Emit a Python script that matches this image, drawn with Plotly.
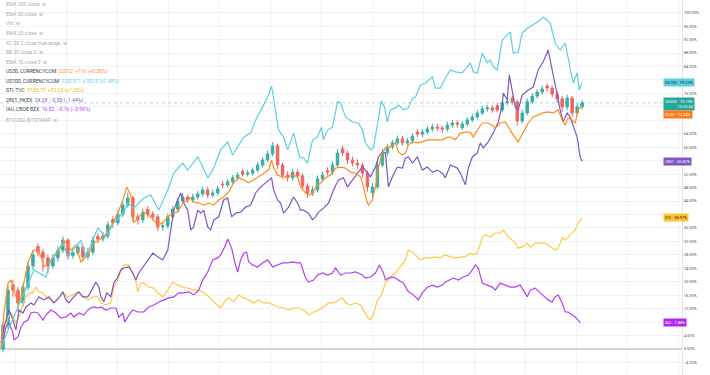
import plotly.graph_objects as go

# ---------------- DATA (percent change since start) ----------------
# US500 candles (main series)
us500_day = list(range(2, 583, 5))
us500_open = [0.0, 7.1, 19.0, 17.5, 13.7, 18.4, 24.7, 30.5, 28.8, 27.1,
              24.7, 27.1, 29.4, 32.4, 27.7, 28.6, 30.3, 27.4, 28.8, 33.5,
              32.7, 33.6, 38.5, 37.5, 40.1, 42.8, 44.9, 39.3, 38.4, 41.5,
              40.1, 39.3, 36.3, 36.6, 39.3, 41.6, 44.0, 45.2, 44.3, 45.2,
              46.1, 47.3, 45.8, 46.4, 49.0, 48.8, 49.7, 50.9, 52.8, 52.0,
              52.3, 53.2, 54.7, 56.2, 58.0, 60.4, 54.7, 51.7, 50.9, 52.6,
              51.5, 48.5, 46.4, 47.3, 50.6, 53.0, 52.6, 54.7, 59.5, 58.3,
              56.2, 55.3, 54.7, 52.3, 46.5, 48.2, 54.7, 58.3, 60.1, 61.3,
              62.5, 61.3, 61.9, 64.5, 63.9, 64.5, 65.4, 66.0, 65.7, 65.4,
              66.6, 67.2, 65.8, 66.9, 68.1, 69.0, 70.2, 71.4, 71.7, 72.3,
              71.1, 73.2, 74.5, 73.5, 67.8, 70.2, 73.5, 75.2, 76.4, 78.2,
              77.6, 75.8, 74.4, 72.0, 74.6, 70.2, 72.0]
us500_close = [7.1, 17.5, 17.5, 13.7, 18.4, 24.7, 28.0, 28.8, 27.1, 24.7,
               27.1, 29.4, 32.4, 27.7, 28.6, 30.3, 27.4, 28.8, 32.4, 32.7,
               33.6, 36.9, 37.5, 40.1, 42.8, 44.9, 39.3, 38.4, 40.7, 40.1,
               39.3, 36.3, 36.6, 39.3, 41.6, 44.0, 45.2, 44.3, 45.2, 46.1,
               47.3, 45.8, 46.4, 47.6, 48.8, 49.7, 50.9, 51.7, 52.0, 52.3,
               53.2, 54.7, 56.2, 58.0, 60.4, 54.7, 51.7, 50.9, 52.6, 51.5,
               48.5, 46.4, 47.3, 50.6, 51.7, 52.6, 54.7, 58.3, 58.3, 56.2,
               55.3, 54.7, 52.3, 48.2, 48.2, 54.7, 58.3, 60.1, 61.3, 62.5,
               61.3, 61.9, 63.3, 63.9, 64.5, 65.4, 66.0, 65.7, 65.4, 66.6,
               67.2, 66.9, 66.9, 68.1, 69.0, 70.2, 71.4, 71.7, 71.1, 71.1,
               73.2, 73.5, 73.5, 67.8, 70.2, 73.5, 75.2, 76.4, 77.3, 77.6,
               75.8, 74.4, 72.0, 74.6, 70.2, 72.0, 73.19]
us500_high = [8.0, 19.0, 20.5, 18.5, 19.5, 26.0, 29.5, 31.5, 29.8, 28.0,
              28.2, 30.5, 33.5, 33.0, 29.8, 31.5, 31.0, 30.0, 33.5, 34.5,
              34.8, 38.0, 39.5, 41.2, 44.0, 46.5, 45.5, 40.2, 41.8, 42.5,
              41.0, 40.0, 37.8, 40.3, 42.6, 45.0, 46.3, 46.0, 46.2, 47.0,
              48.3, 48.2, 47.4, 48.6, 50.0, 50.6, 51.8, 52.6, 53.6, 53.2,
              54.0, 55.6, 57.0, 59.0, 61.5, 61.0, 55.5, 52.8, 53.6, 53.5,
              52.2, 49.3, 48.4, 51.6, 52.8, 54.0, 55.8, 59.4, 60.5, 59.0,
              57.2, 56.4, 55.4, 53.0, 49.4, 55.8, 59.5, 61.0, 62.2, 63.5,
              63.4, 62.8, 64.2, 65.4, 65.4, 66.4, 67.0, 66.9, 66.5, 67.6,
              68.1, 68.0, 67.8, 69.0, 70.0, 71.1, 72.4, 72.6, 72.6, 73.2,
              74.1, 74.5, 75.3, 74.2, 71.2, 74.5, 76.1, 77.3, 78.3, 79.0,
              78.3, 76.7, 75.2, 75.6, 75.3, 73.0, 74.0]
us500_low = [-1.0, 6.0, 15.5, 11.0, 12.5, 17.5, 23.5, 27.5, 23.0, 22.5,
             23.8, 26.0, 28.5, 26.5, 26.8, 27.8, 26.0, 26.5, 28.0, 31.5,
             31.8, 32.8, 36.0, 36.8, 39.2, 42.0, 38.0, 37.0, 37.5, 39.0,
             38.2, 35.0, 35.2, 35.8, 38.5, 40.8, 43.2, 43.3, 43.5, 44.4,
             45.4, 44.8, 45.0, 45.6, 47.8, 48.0, 49.0, 50.2, 51.2, 51.2,
             51.6, 52.5, 54.0, 55.5, 57.2, 53.5, 50.5, 49.8, 50.0, 50.6,
             47.5, 45.0, 45.5, 46.6, 49.8, 51.6, 51.8, 54.0, 57.4, 55.0,
             54.3, 53.6, 51.0, 46.8, 45.2, 47.6, 54.0, 57.4, 59.4, 60.6,
             60.4, 60.5, 61.0, 63.0, 63.0, 63.8, 64.6, 64.8, 64.2, 64.6,
             65.8, 65.8, 65.0, 66.1, 67.4, 68.3, 69.5, 70.6, 70.2, 70.3,
             70.4, 72.4, 72.6, 66.5, 67.0, 69.5, 72.8, 74.5, 75.6, 76.6,
             74.8, 73.2, 70.5, 71.0, 69.0, 69.3, 71.2]

us100_day = [0, 3, 20, 33, 45, 50, 62, 67, 80, 85, 97, 105, 113, 123, 127, 133, 143, 150, 158, 167,
             173, 182, 187, 197, 202, 207, 212, 220, 227, 232, 237, 243, 250, 255, 262, 267, 271, 275, 278, 283,
             287, 293, 299, 303, 307, 312, 317, 321, 323, 327, 332, 337, 340, 345, 352, 358, 362, 365, 370, 373,
             378, 381, 384, 387, 390, 395, 398, 403, 408, 412, 415, 420, 425, 432, 435, 440, 445, 450, 455, 462,
             470, 473, 477, 482, 487, 490, 493, 497, 502, 510, 513, 518, 522, 528, 533, 540, 543, 550, 555, 560,
             565, 570, 573, 577, 579, 582]
us100_pct = [0, 2.7, 14.6, 23.5, 21.4, 26.5, 31.5, 27.4, 32.4, 27.4, 36.0, 33.3, 37.5, 40.7, 43.4, 41.9, 44.9, 45.8, 41.3, 47.3,
             52.3, 55.3, 53.2, 57.1, 54.1, 50.9, 53.2, 59.2, 61.6, 57.7, 60.1, 63.0, 64.2, 68.1, 72.0, 74.9, 78.2, 71.1, 65.1, 63.0,
             59.2, 64.2, 57.1, 56.8, 55.3, 62.2, 63.0, 66.0, 62.2, 65.1, 66.0, 73.5, 73.2, 69.0, 67.5, 67.2, 65.1, 61.3, 59.2, 59.8,
             69.0, 73.8, 72.0, 67.5, 71.1, 71.7, 72.6, 71.1, 71.7, 74.6, 74.9, 78.5, 79.1, 80.9, 77.6, 77.6, 80.6, 83.0, 82.4, 82.1,
             85.1, 82.4, 82.1, 88.0, 85.1, 85.9, 83.9, 83.0, 91.9, 94.3, 88.0, 88.3, 94.0, 95.5, 96.4, 97.8, 98.7, 97.0, 91.0, 88.9,
             91.0, 83.6, 79.1, 82.1, 77.0, 79.27]

us30_day = [0, 3, 7, 10, 13, 17, 20, 23, 27, 30, 33, 37, 40, 43, 48, 53, 60, 63, 70, 75,
            80, 87, 93, 103, 110, 117, 122, 126, 130, 133, 137, 143, 150, 157, 162, 167, 172, 177, 182, 187,
            190, 193, 198, 203, 208, 213, 218, 223, 228, 233, 238, 243, 248, 253, 258, 263, 268, 271, 273, 277,
            282, 287, 292, 297, 300, 305, 310, 315, 320, 325, 330, 335, 340, 345, 350, 355, 360, 363, 366, 368,
            372, 375, 378, 382, 385, 390, 395, 398, 402, 405, 408, 412, 417, 422, 427, 432, 437, 442, 447, 450,
            455, 460, 465, 470, 473, 477, 482, 487, 492, 495, 500, 505, 510, 513, 518, 523, 528, 533, 538, 543,
            548, 553, 558, 562, 565, 568, 572, 575, 578, 582]
us30_pct = [0.6, 10.7, 19.6, 20.5, 17.5, 13.7, 15.5, 19.6, 25.6, 28.0, 29.4, 29.4, 27.4, 24.4, 25.6, 27.4, 30.3, 32.4, 29.4, 30.9,
            25.9, 28.0, 31.5, 33.3, 36.3, 40.4, 44.3, 48.2, 45.8, 37.5, 39.0, 40.7, 39.3, 36.9, 37.5, 39.3, 40.4, 40.7, 43.4, 44.3,
            44.9, 43.7, 43.4, 42.8, 43.4, 42.8, 44.3, 45.2, 46.7, 49.4, 50.9, 50.3, 49.4, 50.3, 51.2, 52.3, 53.2, 56.2, 54.1, 51.7,
            51.2, 51.2, 51.7, 51.2, 48.2, 46.4, 45.8, 47.9, 49.4, 50.9, 51.7, 53.8, 54.1, 53.8, 52.6, 52.3, 51.2, 48.2, 44.3, 42.8,
            44.3, 48.2, 54.1, 58.3, 59.8, 60.1, 61.3, 58.6, 57.7, 58.3, 60.7, 61.6, 61.3, 61.6, 62.2, 62.2, 62.2, 62.2, 63.0, 63.0,
            62.2, 64.2, 64.5, 64.5, 63.0, 65.1, 67.2, 67.2, 66.6, 65.7, 67.2, 67.5, 65.1, 63.6, 61.6, 64.2, 67.2, 69.0, 69.6, 70.2,
            70.5, 70.2, 71.1, 68.1, 66.6, 68.7, 68.1, 67.2, 71.1, 72.24]

hk2801_day = [0, 3, 8, 12, 15, 18, 22, 25, 30, 33, 38, 43, 48, 53, 58, 62, 65, 68, 72, 78,
              82, 87, 92, 95, 98, 100, 103, 106, 110, 113, 117, 120, 123, 128, 132, 135, 138, 142, 147, 152,
              157, 162, 167, 170, 173, 177, 180, 183, 187, 190, 193, 197, 200, 203, 207, 210, 213, 218, 223, 227,
              231, 235, 240, 245, 250, 255, 260, 265, 271, 273, 277, 280, 283, 288, 293, 297, 300, 303, 308, 312,
              315, 318, 323, 328, 333, 338, 343, 347, 352, 357, 362, 365, 370, 375, 378, 382, 385, 388, 392, 397,
              402, 405, 408, 412, 417, 422, 427, 432, 437, 442, 445, 450, 457, 460, 465, 468, 472, 477, 480, 483,
              488, 493, 498, 502, 503, 507, 509, 512, 515, 518, 522, 528, 533, 538, 543, 548, 550, 553, 557, 560,
              563, 567, 570, 573, 577, 580, 582]
hk2801_pct = [1.8, 6.5, 11.6, 8.6, 5.7, 11.6, 10.7, 12.5, 13.7, 13.1, 15.5, 14.6, 15.5, 13.7, 15.2, 17.0, 14.6, 13.7, 15.2, 17.0,
              15.5, 15.5, 18.1, 19.9, 18.4, 15.5, 14.0, 16.7, 15.5, 19.6, 21.4, 23.5, 24.1, 24.4, 22.6, 20.5, 22.6, 24.4, 26.5, 28.5,
              27.4, 26.5, 29.4, 35.4, 41.3, 44.3, 46.4, 43.4, 41.3, 35.4, 36.3, 41.3, 40.4, 41.3, 36.3, 35.4, 38.4, 39.3, 44.3, 44.9,
              39.3, 40.4, 40.7, 42.2, 42.8, 46.4, 48.2, 49.4, 50.9, 47.3, 44.3, 43.4, 40.4, 42.2, 45.2, 43.4, 41.3, 41.3, 40.4, 38.4,
              39.3, 40.7, 41.9, 43.4, 47.3, 50.3, 50.9, 48.2, 50.3, 52.3, 54.1, 53.2, 51.2, 54.1, 57.1, 58.6, 58.3, 48.2, 51.2, 54.1,
              53.8, 56.8, 57.1, 55.3, 57.1, 53.2, 54.1, 52.6, 53.2, 52.3, 50.9, 54.7, 53.8, 52.3, 48.8, 53.8, 57.1, 58.3, 61.3, 59.8,
              61.6, 64.2, 67.5, 72.6, 76.1, 74.1, 81.5, 77.0, 72.0, 71.1, 75.5, 77.0, 77.9, 83.0, 85.4, 88.9, 85.9, 80.9, 74.9, 71.1,
              67.5, 70.2, 69.0, 66.6, 63.0, 57.1, 55.82]

sti_day = [0, 3, 7, 10, 15, 18, 22, 25, 28, 32, 35, 38, 42, 45, 50, 53, 58, 62, 67, 72,
           77, 82, 87, 92, 97, 100, 105, 110, 113, 117, 120, 123, 128, 132, 135, 137, 140, 143, 148, 153,
           157, 162, 167, 172, 177, 182, 187, 193, 198, 203, 208, 213, 220, 225, 228, 233, 238, 243, 248, 253,
           258, 263, 268, 273, 278, 283, 288, 293, 299, 305, 308, 313, 318, 323, 328, 333, 338, 342, 345, 350,
           355, 360, 363, 367, 370, 373, 377, 381, 385, 390, 395, 400, 405, 408, 412, 415, 420, 425, 430, 435,
           440, 445, 450, 455, 460, 465, 470, 473, 477, 482, 485, 490, 495, 500, 503, 508, 512, 515, 518, 522,
           527, 530, 535, 540, 545, 548, 552, 555, 558, 562, 565, 568, 572, 575, 578, 582]
sti_pct = [0.6, 4.8, 9.5, 10.7, 7.7, 9.5, 13.7, 15.5, 16.7, 16.7, 18.4, 17.0, 16.7, 15.5, 14.6, 13.7, 15.2, 16.7, 15.5, 16.1,
           17.0, 15.5, 14.6, 15.5, 15.5, 13.7, 13.1, 13.7, 18.4, 20.5, 23.5, 25.0, 25.0, 22.6, 20.5, 17.0, 19.6, 19.6, 18.4, 18.1,
           16.7, 15.5, 17.5, 19.9, 19.0, 18.4, 18.1, 17.5, 17.5, 16.7, 15.5, 14.0, 12.2, 14.6, 15.2, 14.0, 16.1, 15.2, 14.6, 13.7,
           14.6, 13.7, 13.7, 13.1, 12.5, 12.2, 11.6, 12.2, 12.2, 11.0, 10.1, 11.0, 11.6, 12.5, 13.7, 13.7, 14.6, 15.2, 13.7, 13.1,
           13.7, 13.1, 11.6, 9.5, 8.6, 10.1, 14.6, 16.1, 19.6, 21.4, 22.6, 24.4, 26.5, 29.4, 28.8, 28.0, 26.5, 27.1, 27.1, 27.4,
           27.1, 28.0, 27.4, 27.1, 27.4, 27.4, 28.5, 28.0, 28.5, 33.3, 33.9, 33.3, 34.5, 34.5, 35.4, 33.3, 32.4, 31.5, 30.0, 30.3,
           31.5, 30.3, 31.5, 31.5, 31.5, 30.9, 30.0, 29.4, 30.0, 33.0, 32.4, 33.3, 34.5, 35.4, 37.5, 38.97]

iau_day = [0, 5, 8, 12, 13, 17, 20, 23, 27, 30, 33, 37, 42, 45, 50, 55, 60, 65, 70, 73,
           78, 83, 87, 90, 93, 97, 100, 105, 110, 115, 118, 122, 124, 128, 132, 137, 143, 148, 153, 158,
           163, 168, 173, 178, 183, 188, 193, 198, 202, 207, 212, 217, 220, 224, 227, 231, 234, 237, 240, 243,
           246, 248, 252, 257, 262, 267, 272, 277, 282, 287, 292, 297, 300, 305, 308, 313, 317, 322, 327, 332,
           335, 340, 345, 350, 355, 358, 362, 365, 370, 375, 379, 383, 385, 388, 393, 398, 403, 408, 413, 418,
           422, 427, 432, 437, 442, 445, 450, 453, 458, 463, 468, 472, 475, 478, 482, 487, 492, 495, 500, 505,
           510, 515, 520, 523, 527, 530, 535, 540, 545, 548, 552, 555, 558, 562, 565, 568, 572, 575, 578, 580]
iau_pct = [0, 6.5, 7.7, 4.8, 2.7, 3.6, 6.5, 8.0, 8.6, 10.7, 11.0, 10.7, 8.6, 10.1, 11.6, 10.7, 9.2, 9.5, 10.7, 9.5,
           10.7, 10.1, 11.6, 12.2, 12.5, 12.2, 12.5, 11.6, 12.2, 12.2, 9.5, 10.7, 8.0, 10.1, 11.6, 11.0, 11.0, 12.5, 13.1, 14.0,
           14.6, 15.2, 15.5, 16.7, 16.7, 17.0, 16.1, 17.5, 20.5, 22.9, 26.5, 27.1, 28.0, 30.3, 32.7, 30.0, 25.9, 22.9, 26.5, 28.5,
           28.8, 25.9, 25.0, 24.4, 25.6, 26.5, 24.4, 25.0, 25.6, 25.6, 25.9, 25.6, 25.6, 21.1, 19.9, 20.5, 22.0, 22.6, 22.0, 22.6,
           24.1, 22.0, 22.6, 22.6, 22.9, 22.6, 22.0, 21.1, 21.4, 22.6, 25.0, 22.6, 20.5, 21.1, 21.4, 20.5, 19.6, 17.0, 16.1, 14.6,
           16.7, 18.4, 19.0, 18.4, 19.0, 19.9, 20.5, 21.1, 20.5, 21.4, 22.0, 23.5, 25.0, 24.1, 19.6, 19.0, 18.4, 17.5, 19.6, 19.0,
           18.4, 18.4, 19.0, 17.5, 15.5, 17.5, 18.1, 16.7, 15.5, 14.6, 14.0, 15.5, 16.1, 13.7, 11.0, 11.0, 10.1, 9.5, 8.6, 7.88]

# axis ticks (labels hidden where the price-scale tags cover them)
y_ticks = [-8, -4, 0, 4, 8, 12, 16, 20, 24, 28, 32, 36, 40, 44, 48, 52, 56, 60, 64, 68, 72, 76, 80, 84, 88, 92, 96, 100]
y_covered = [8, 40, 56, 68, 72, 80]
y_tick_labels = ["" if v in y_covered else ("\u2212" if v < 0 else "") + "%.2f%%" % abs(v) for v in y_ticks]

# legend rows
legend_hidden = ["EMA 200 close", "EMA 50 close", "Vol", "EMA 20 close",
                 "KC 20 2 close true range", "BB 20 close 2", "EMA 10 close 0"]
legend_symbols = ["US30, CURRENCYCOM", "US100, CURRENCYCOM", "STI, TVC", "2801, HKEX", "IAU, CBOE BZX"]
legend_values = ["32012  +116 (+0.36%)", "12518.7  +182.8 (+1.48%)", "3103.79  +32.63 (+1.06%)",
                 "34.28  \u22120.50 (\u22121.44%)", "16.02  \u22120.16 (\u22120.99%)"]
legend_last_hidden = "BTCUSD, BITSTAMP"

# ---------------- STYLE ----------------
C_UP, C_DN = "#26a69a", "#ef5350"
C_US30, C_US100, C_STI, C_2801, C_IAU = "#ff8c1f", "#5ccfe0", "#ffc845", "#7e57c2", "#b040f2"
sym_colors = [C_US30, C_US100, "#f5b800", C_2801, C_IAU]
FONT = "Roboto, Liberation Sans, Arial, sans-serif"
W, H, PR = 710, 375, 28
PW = W - PR

fig = go.Figure()
fig.add_trace(go.Candlestick(
    x=us500_day, open=us500_open, high=us500_high, low=us500_low, close=us500_close,
    increasing=dict(line=dict(color=C_UP, width=1), fillcolor=C_UP),
    decreasing=dict(line=dict(color=C_DN, width=1), fillcolor=C_DN),
    whiskerwidth=0, opacity=0.9, hoverinfo="skip"))

for d, v, c in [(sti_day, sti_pct, C_STI), (iau_day, iau_pct, C_IAU),
                (hk2801_day, hk2801_pct, C_2801), (us30_day, us30_pct, C_US30),
                (us100_day, us100_pct, C_US100)]:
    fig.add_trace(go.Scatter(x=d, y=v, mode="lines", line=dict(color=c, width=1.2),
                             hoverinfo="skip"))

# last price dotted line of main series
fig.add_shape(type="line", xref="paper", x0=0, x1=1, yref="y",
              y0=us500_close[-1], y1=us500_close[-1],
              line=dict(color="rgba(38,166,154,0.4)", width=1, dash="dot"))

annotations = []
row = 0
def ypx(p):
    return 1 - p / H
for name in legend_hidden:
    annotations.append(dict(xref="paper", yref="paper", x=4 / PW, y=ypx(4.3 + 9.6 * row),
                            xanchor="left", yanchor="middle", showarrow=False,
                            text="%s  <span style='color:#9598a1'>\u2298</span>" % name,
                            font=dict(size=5, color="#a8abb3", family=FONT)))
    row += 1
for s, v, c in zip(legend_symbols, legend_values, sym_colors):
    annotations.append(dict(xref="paper", yref="paper", x=4 / PW, y=ypx(4.3 + 9.6 * row),
                            xanchor="left", yanchor="middle", showarrow=False,
                            text="%s  <span style='color:%s'>%s</span>" % (s, c, v),
                            font=dict(size=5, color="#3b3f4a", family=FONT)))
    row += 1
annotations.append(dict(xref="paper", yref="paper", x=4 / PW, y=ypx(4.3 + 9.6 * row),
                        xanchor="left", yanchor="middle", showarrow=False,
                        text="%s  <span style='color:#9598a1'>\u2298</span>" % legend_last_hidden,
                        font=dict(size=5, color="#a8abb3", family=FONT)))

# price scale labels
labels = [
    ("US100 \u00b7 %.2f%%" % us100_pct[-1], us100_pct[-1], C_US100, "#131722", 0),
    ("US500 \u00b7 %.2f%%<br>13:23:54" % us500_close[-1], us500_close[-1], C_UP, "white", -1),
    ("US30 \u00b7 %.2f%%" % us30_pct[-1], us30_pct[-1], "#ff7a12", "white", -8),
    ("2801 \u00b7 %.2f%%" % hk2801_pct[-1], hk2801_pct[-1], C_2801, "white", 0),
    ("STI \u00b7 %.2f%%" % sti_pct[-1], sti_pct[-1], "#ffc52e", "#131722", 0),
    ("IAU \u00b7 %.2f%%" % iau_pct[-1], iau_pct[-1], "#b026f5", "white", 0),
]
for txt, yv, bg, fc, ys in labels:
    annotations.append(dict(xref="paper", yref="y", x=663 / PW, y=yv, yshift=ys,
                            xanchor="left", yanchor="middle", showarrow=False, align="right",
                            text=txt, bgcolor=bg, borderpad=1,
                            font=dict(size=4, color=fc, family=FONT)))

fig.update_layout(
    width=W, height=H,
    margin=dict(l=0, r=PR, t=0, b=0),
    paper_bgcolor="white", plot_bgcolor="white",
    showlegend=False,
    font=dict(family=FONT),
    annotations=annotations,
    xaxis=dict(range=[-1, 682], showticklabels=False, showgrid=True, gridcolor="#f1f2f6",
               gridwidth=1, tick0=15, dtick=51, zeroline=False, ticks="",
               rangeslider=dict(visible=False), fixedrange=True),
    yaxis=dict(side="right", range=[-7.73, 103.78], tickmode="array",
               tickvals=y_ticks, ticktext=y_tick_labels, showgrid=True,
               gridcolor="#f1f2f6", gridwidth=1, zeroline=True, zerolinecolor="#d4d4d4",
               zerolinewidth=2, showline=True, linecolor="#e6e1f0", linewidth=1,
               ticks="", tickfont=dict(size=4, color="#50535e", family=FONT), fixedrange=True),
)

fig.write_html("out.html", config={"displayModeBar": False},
               post_script="document.body.style.margin='0';document.body.style.overflow='hidden';")
